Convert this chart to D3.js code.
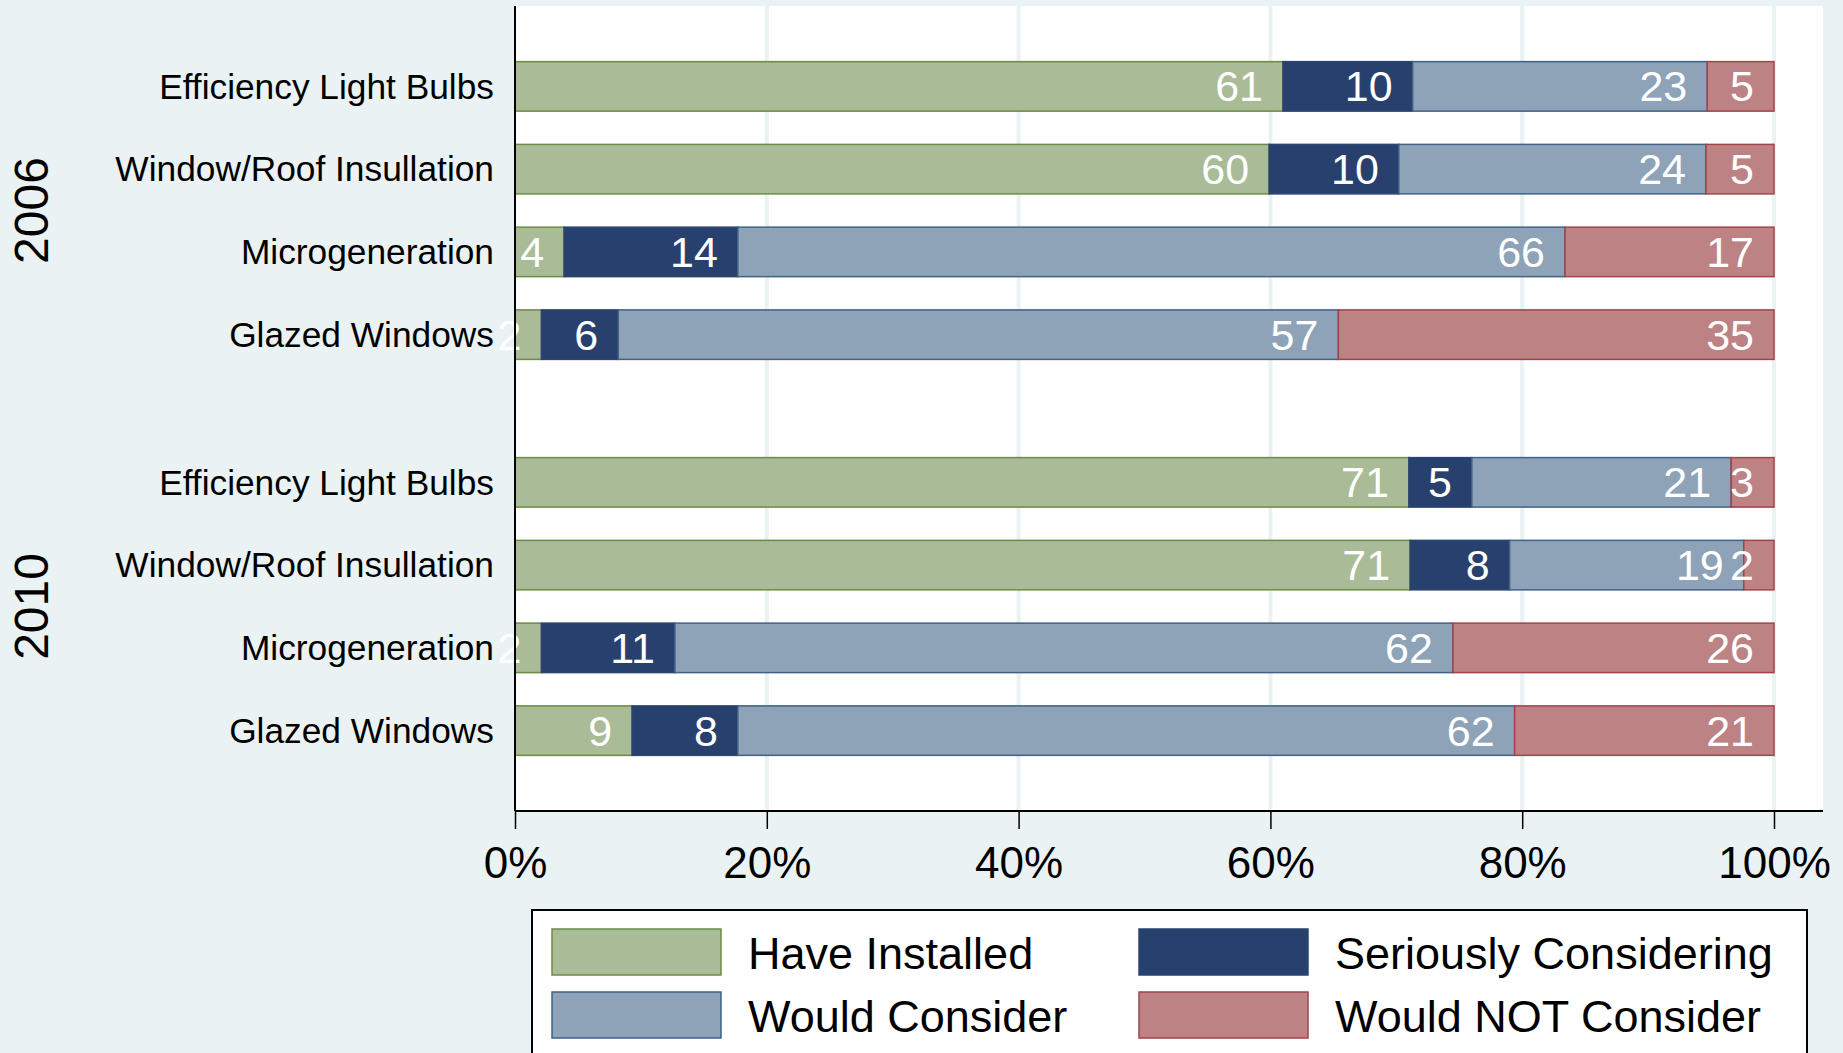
<!DOCTYPE html>
<html>
<head>
<meta charset="utf-8">
<script src="https://cdn.jsdelivr.net/npm/d3@7"></script>
<style>
  body { margin: 0; background: #eaf2f3; }
  text { font-family: Arial, "Liberation Sans", sans-serif; }
</style>
</head>
<body>
<div id="chart"></div>
<script>
// données (en %)
const years = ["2006", "2010"];
const measures = ["Efficiency Light Bulbs", "Window/Roof Insullation", "Microgeneration", "Glazed Windows"];
const responses = ["Have Installed", "Seriously Considering", "Would Consider", "Would NOT Consider"];

// une valeur par barre : 2006 (4 mesures) puis 2010 (4 mesures)
const haveInstalled = [61.0, 59.9, 3.9, 2.1, 71.0, 71.1, 2.1, 9.3];
const seriouslyConsidering = [10.3, 10.3, 13.8, 6.1, 5.0, 7.9, 10.6, 8.4];
const wouldConsider = [23.4, 24.4, 65.7, 57.2, 20.6, 18.6, 61.8, 61.7];
const wouldNotConsider = [5.3, 5.4, 16.6, 34.6, 3.4, 2.4, 25.5, 20.6];

const xTicks = [0, 0.2, 0.4, 0.6, 0.8, 1];

const fills = ["#aabb97", "#28406e", "#8ea3b8", "#bd8384"];
const strokes = ["#6b8c45", "#2a4470", "#3f6286", "#a3434a"];

// table des lignes
const series = [haveInstalled, seriouslyConsidering, wouldConsider, wouldNotConsider];
const rows = [];
years.forEach((yr, gi) => {
  measures.forEach((m, mi) => {
    const row = { year: yr, measure: m };
    responses.forEach((r, ri) => row[r] = series[ri][gi * measures.length + mi]);
    rows.push(row);
  });
});

const W = 1843, H = 1053;
const plot = { left: 515, right: 1823, top: 6, bottom: 811 };

const svg = d3.select("#chart").append("svg")
  .attr("width", W).attr("height", H);

svg.append("rect").attr("width", W).attr("height", H).attr("fill", "#eaf2f3");
svg.append("rect")
  .attr("x", plot.left).attr("y", plot.top)
  .attr("width", plot.right - plot.left).attr("height", plot.bottom - plot.top)
  .attr("fill", "#ffffff");

const x = d3.scaleLinear().domain([0, 1]).range([515, 1774]);

const yGroup = d3.scaleBand().domain(years)
  .range([plot.top, plot.bottom])
  .paddingInner(0.164).paddingOuter(0.0985);

const yInner = d3.scaleBand().domain(measures)
  .range([0, yGroup.bandwidth()])
  .paddingInner(0.402).paddingOuter(0.201);

const yPos = d => yGroup(d.year) + yInner(d.measure);

// grille
svg.append("g").selectAll("line")
  .data(xTicks.slice(1))
  .join("line")
  .attr("x1", d => x(d)).attr("x2", d => x(d))
  .attr("y1", plot.top).attr("y2", plot.bottom)
  .attr("stroke", "#eaf2f3").attr("stroke-width", 4);

// barres empilées (normalisées à 100%)
const stack = d3.stack().keys(responses).offset(d3.stackOffsetExpand);
const stacked = stack(rows);

const layers = svg.append("g").selectAll("g")
  .data(stacked)
  .join("g")
  .attr("fill", (d, i) => fills[i])
  .attr("stroke", (d, i) => strokes[i])
  .attr("stroke-width", 1.5);

layers.selectAll("rect")
  .data(d => d)
  .join("rect")
  .attr("x", d => x(d[0]))
  .attr("width", d => x(d[1]) - x(d[0]))
  .attr("y", d => yPos(d.data))
  .attr("height", yInner.bandwidth());

// étiquettes des valeurs
const labels = svg.append("g");
stacked.forEach(layer => {
  labels.selectAll(null)
    .data(layer)
    .join("text")
    .attr("x", d => x(d[1]) - 20)
    .attr("y", d => yPos(d.data) + yInner.bandwidth() / 2)
    .attr("dy", "0.35em")
    .attr("text-anchor", "end")
    .attr("fill", "#ffffff")
    .style("font-size", "43px")
    .text(d => Math.round(d.data[layer.key]));
});

// axe x
const xAxis = svg.append("g")
  .attr("transform", `translate(0,${plot.bottom})`)
  .call(d3.axisBottom(x).tickValues(xTicks).tickFormat(d3.format(".0%"))
    .tickSize(18).tickPadding(18));
xAxis.select(".domain").remove();
xAxis.selectAll(".tick line").attr("stroke", "#000").attr("stroke-width", 1.5);
xAxis.selectAll(".tick text").attr("fill", "#000").style("font-size", "44px")
  .style("font-family", "Arial, 'Liberation Sans', sans-serif");

svg.append("line")
  .attr("x1", plot.left).attr("x2", plot.right)
  .attr("y1", plot.bottom).attr("y2", plot.bottom)
  .attr("stroke", "#000").attr("stroke-width", 2);
svg.append("line")
  .attr("x1", plot.left).attr("x2", plot.left)
  .attr("y1", plot.top).attr("y2", plot.bottom)
  .attr("stroke", "#000").attr("stroke-width", 2);

// étiquettes des catégories, par année
years.forEach(yr => {
  const g = svg.append("g")
    .attr("transform", `translate(${plot.left},${yGroup(yr)})`)
    .call(d3.axisLeft(yInner).tickSize(0).tickPadding(21));
  g.select(".domain").remove();
  g.selectAll(".tick text").attr("fill", "#000").attr("dy", "0.35em")
    .style("font-size", "35.3px")
    .style("font-family", "Arial, 'Liberation Sans', sans-serif");

  svg.append("text")
    .attr("transform", `translate(48,${yGroup(yr) + yGroup.bandwidth() / 2}) rotate(-90)`)
    .attr("text-anchor", "middle")
    .style("font-size", "48px")
    .text(yr);
});

// légende
const legend = svg.append("g");
legend.append("rect")
  .attr("x", 532).attr("y", 910)
  .attr("width", 1275).attr("height", 200)
  .attr("fill", "#ffffff").attr("stroke", "#000").attr("stroke-width", 2);

const colX = [552, 1139], rowY = [929, 992];
const items = legend.selectAll("g.item")
  .data(responses)
  .join("g")
  .attr("class", "item")
  .attr("transform", (d, i) => `translate(${colX[i % 2]},${rowY[Math.floor(i / 2)]})`);

items.append("rect")
  .attr("width", 169).attr("height", 46)
  .attr("fill", (d, i) => fills[i])
  .attr("stroke", (d, i) => strokes[i])
  .attr("stroke-width", 1.5);

items.append("text")
  .attr("x", 196).attr("y", 40)
  .style("font-size", "45px")
  .text(d => d);
</script>
</body>
</html>
